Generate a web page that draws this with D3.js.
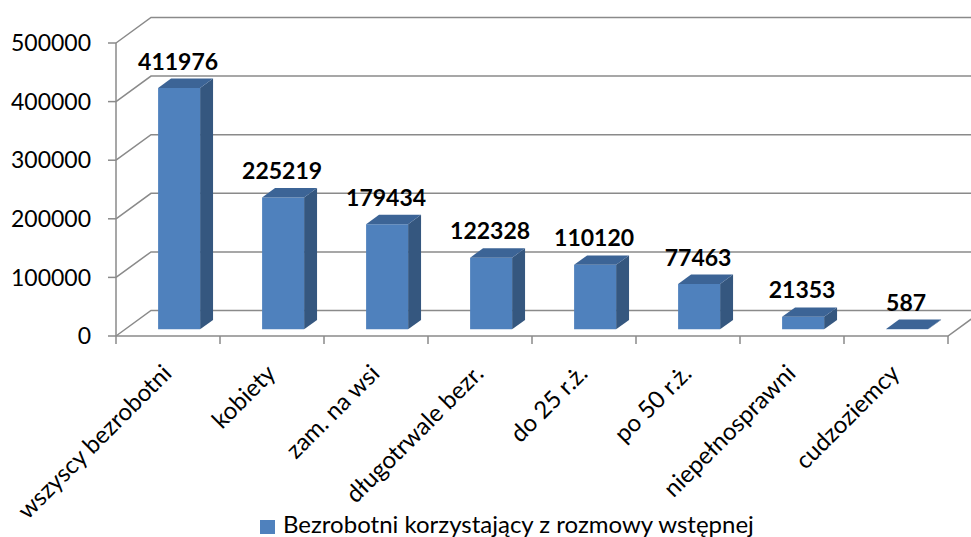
<!DOCTYPE html>
<html>
<head>
<meta charset="utf-8">
<script src="https://cdn.jsdelivr.net/npm/d3@7"></script>
<style>
  html, body { margin: 0; padding: 0; background: #fff; }
  svg { display: block; }
  text { font-family: Lato, "Open Sans", sans-serif; fill: #000; }
</style>
</head>
<body>
<div id="chart"></div>
<script>
const categories = [
  "wszyscy bezrobotni", "kobiety", "zam. na wsi", "długotrwale bezr.",
  "do 25 r.ż.", "po 50 r.ż.", "niepełnosprawni", "cudzoziemcy"
];
const values = [411976, 225219, 179434, 122328, 110120, 77463, 21353, 587];
const yTicks = [0, 100000, 200000, 300000, 400000, 500000];
const seriesName = "Bezrobotni korzystający z rozmowy wstępnej";

const width = 971;
const height = 537;

// 3d box geometry
const depthX = 35;    // full floor depth, x shift
const depthY = -25.5; // full floor depth, y shift
const barFront = 0.26;
const barBack = 0.63;
const barW = 42;

const colFront = "#4f81bd";
const colTop = "#3c6496";
const colSide = "#35577f";
const gridCol = "#8a8a8a";

const svg = d3.select("#chart").append("svg")
  .attr("width", width)
  .attr("height", height)
  .attr("viewBox", `0 0 ${width} ${height}`);

const x = d3.scaleBand().domain(categories).range([116, 948]);
const y = d3.scaleLinear().domain([0, 500000]).range([336, 43]);

// point on depth plane f (0 = front, 1 = back wall)
const pt = (px, py, f) => [px + depthX * f, py + depthY * f];
const poly = (pts) => pts.map((p) => p.join(",")).join(" ");

// ---- walls / gridlines ----
const grid = svg.append("g").attr("stroke", gridCol).attr("stroke-width", 1.5).attr("fill", "none");

yTicks.forEach((t) => {
  const a = pt(116, y(t), 0);
  const b = pt(116, y(t), 1);
  grid.append("polyline").attr("points", poly([a, b, [width + 20, b[1]]]));
});

// floor front edge and right edge
grid.append("polyline").attr("points", poly([
  pt(116, y(0), 0), pt(948, y(0), 0), pt(948, y(0), 1)
]));

// vertical axis
grid.append("line").attr("x1", 116).attr("x2", 116).attr("y1", y(500000)).attr("y2", y(0));

// y ticks
yTicks.forEach((t) => {
  grid.append("line").attr("x1", 108).attr("x2", 116).attr("y1", y(t)).attr("y2", y(t));
});
// category ticks
x.domain().concat(["__end"]).forEach((c, i) => {
  const px = 116 + i * x.bandwidth();
  grid.append("line").attr("x1", px).attr("x2", px).attr("y1", y(0)).attr("y2", y(0) + 8);
});

// y tick labels
svg.append("g").selectAll("text").data(yTicks).join("text")
  .attr("x", 91)
  .attr("y", (d) => y(d))
  .attr("dy", "0.36em")
  .attr("text-anchor", "end")
  .style("font-size", "23px")
  .text((d) => d);

// ---- bars ----
const bars = svg.append("g").selectAll("g").data(categories.map((c, i) => ({ c, v: values[i] }))).join("g");

const barLeft = (d) => x(d.c) + (x.bandwidth() - barW) / 2 + 2;

// side face
bars.append("polygon")
  .attr("fill", colSide)
  .attr("points", (d) => {
    const xr = barLeft(d) + barW;
    return poly([
      pt(xr, y(0), barFront), pt(xr, y(0), barBack),
      pt(xr, y(d.v), barBack), pt(xr, y(d.v), barFront)
    ]);
  });

// front face
bars.append("polygon")
  .attr("fill", colFront)
  .attr("points", (d) => {
    const xl = barLeft(d);
    const xr = xl + barW;
    return poly([
      pt(xl, y(0), barFront), pt(xr, y(0), barFront),
      pt(xr, y(d.v), barFront), pt(xl, y(d.v), barFront)
    ]);
  });

// top face
bars.append("polygon")
  .attr("fill", colTop)
  .attr("points", (d) => {
    const xl = barLeft(d);
    const xr = xl + barW;
    return poly([
      pt(xl, y(d.v), barFront), pt(xr, y(d.v), barFront),
      pt(xr, y(d.v), barBack), pt(xl, y(d.v), barBack)
    ]);
  });

// value labels
bars.append("text")
  .attr("x", (d) => pt(barLeft(d) + barW / 2, 0, barFront)[0] - 1)
  .attr("y", (d) => pt(0, y(d.v), barBack)[1] - 9)
  .attr("text-anchor", "middle")
  .style("font-size", "23px")
  .style("font-weight", "bold")
  .text((d) => d.v);

// category labels
svg.append("g").selectAll("text").data(categories).join("text")
  .attr("transform", (c) => `translate(${x(c) + x.bandwidth() / 2 + 5},${375}) rotate(-45)`)
  .attr("text-anchor", "end")
  .style("font-size", "24px")
  .text((c) => c);

// legend
const legend = svg.append("g");
legend.append("rect").attr("x", 260).attr("y", 520).attr("width", 15).attr("height", 14).attr("fill", colFront);
legend.append("text").attr("x", 283).attr("y", 533).style("font-size", "24px").text(seriesName);
</script>
</body>
</html>
